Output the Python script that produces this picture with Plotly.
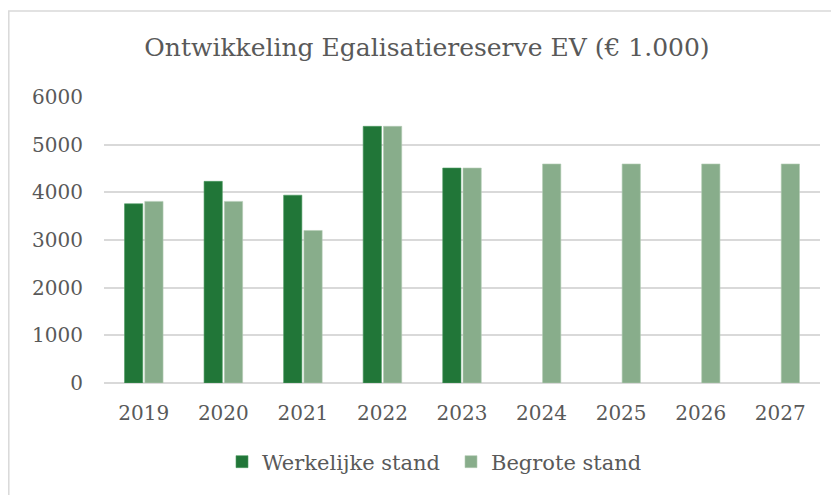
import plotly.graph_objects as go

years = ["2019", "2020", "2021", "2022", "2023", "2024", "2025", "2026", "2027"]
werkelijke = [3760, 4230, 3940, 5385, 4510, None, None, None, None]
begrote = [3810, 3810, 3200, 5385, 4510, 4595, 4595, 4595, 4595]
y_ticks = [0, 1000, 2000, 3000, 4000, 5000, 6000]

DARK = "#217638"
LIGHT = "#88AD8B"
TXT = "#595959"
GRID = "#D9D9D9"
FONT = "DejaVu Serif"

fig = go.Figure()
fig.add_trace(go.Bar(x=years, y=werkelijke, name="Werkelijke stand",
                     marker=dict(color=DARK, line=dict(color="#4E9A62", width=0.6))))
fig.add_trace(go.Bar(x=years, y=begrote, name="Begrote stand",
                     marker=dict(color=LIGHT, line=dict(color="#B2CBB4", width=0.6))))

# page body adds an 8px offset; figure coordinates = reference - 8
W, H = 831, 487
L, R, T, B = 96, 19, 89, 112
pw, ph = W - L - R, H - T - B

def px_x(x):
    return (x - L) / pw

def px_y(y):
    return (H - B - y) / ph

fig.update_layout(
    width=W, height=H,
    margin=dict(l=L, r=R, t=T, b=B),
    paper_bgcolor="white", plot_bgcolor="white",
    barmode="group", bargap=0.49, bargroupgap=0.1,
    title=dict(text="Ontwikkeling Egalisatiereserve EV (€ 1.000)",
               x=419 / W, xanchor="center", y=1 - 39 / H, yanchor="middle",
               font=dict(family=FONT, size=25, color=TXT)),
    font=dict(family=FONT, color=TXT),
    legend=dict(orientation="h", x=px_x(214), xanchor="left",
                y=px_y(454), yanchor="middle",
                font=dict(family=FONT, size=21, color=TXT),
                itemwidth=30, traceorder="normal",
                entrywidth=184, entrywidthmode="pixels"),
    xaxis=dict(type="category", showgrid=False, showline=False, ticks="",
               tickfont=dict(family=FONT, size=20, color=TXT),
               ticklabelstandoff=16),
    yaxis=dict(range=[0, 6000], tickvals=y_ticks, showgrid=True,
               gridcolor=GRID, gridwidth=1.5, zeroline=True,
               zerolinecolor=GRID, zerolinewidth=1.5, showline=False,
               tickfont=dict(family=FONT, size=20, color=TXT),
               ticklabelstandoff=20),
    shapes=[dict(type="rect", xref="paper", yref="paper",
                 x0=px_x(0.8), x1=px_x(860), y0=px_y(520), y1=px_y(3),
                 line=dict(color=GRID, width=1.5), layer="below")],
)

fig.write_html("out.html")
